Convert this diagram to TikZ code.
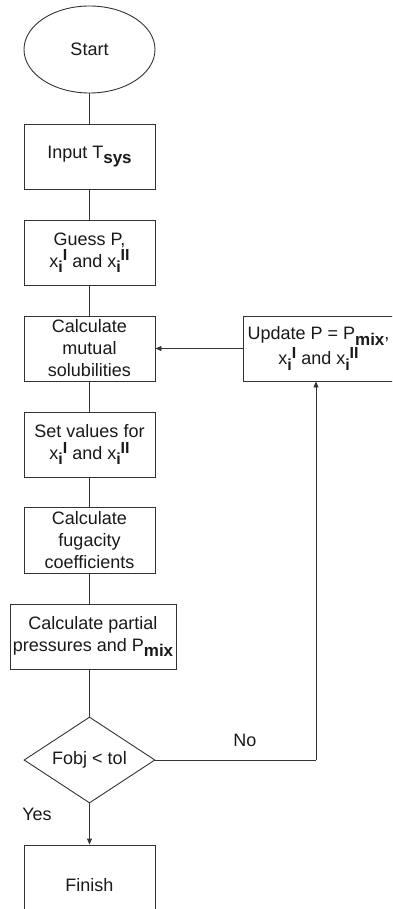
\documentclass[tikz,border=0pt]{standalone}
\usepackage{fontspec}
\setmainfont{Liberation Sans}
\usetikzlibrary{shapes.geometric,arrows.meta}
\newcommand\subb[1]{\raisebox{-0.3em}{\fontsize{17}{17}\selectfont\bfseries #1}}
\newcommand\xii[1]{x\raisebox{-0.3em}{\fontsize{16}{16}\selectfont\bfseries i}\raisebox{0.34em}{\fontsize{16}{16}\selectfont\bfseries #1}}
\begin{document}
\begin{tikzpicture}[x=1pt,y=-1pt,
  every node/.style={font=\fontsize{18}{22}\selectfont, text=black!90},
  box/.style={draw=black!80, line width=0.9pt, rectangle, minimum width=131pt, minimum height=65pt, inner sep=0pt, align=center},
  term/.style={draw=black!80, line width=0.9pt, ellipse, minimum width=131pt, minimum height=87pt, inner sep=0pt},
  decision/.style={draw=black!80, line width=0.9pt, diamond, minimum width=131pt, minimum height=86pt, aspect=1.52, inner sep=0pt},
  conn/.style={draw=black!80, line width=0.9pt},
  arr/.style={conn, -{Triangle[length=6pt,width=5pt]}},
  lbl/.style={inner sep=0pt}
]
\useasboundingbox (0,0) rectangle (392,909);
\clip (0,0) rectangle (392,909);
\node[term] (start) at (89.5,49.5) {Start};
\node[box] (input) at (89.5,156.5) {Input T\subb{sys}};
\node[box] (guess) at (89.5,252.5) {Guess P,\\\xii{I} and \xii{II}};
\node[box] (mutual) at (89.5,348.5) {Calculate\\mutual\\solubilities};
\node[box] (setv) at (89.5,444.5) {Set values for\\\xii{I} and \xii{II}};
\node[box, minimum height=66pt] (fug) at (89.5,540) {Calculate\\fugacity\\coefficients};
\node[box, minimum width=166pt] (partial) at (93,636.5) {Calculate partial\\pressures and P\subb{mix}};
\node[decision] (dec) at (89.5,760) {Fobj < tol};
\node[box, minimum height=80pt] (finish) at (89.5,885) {Finish};
\node[box, minimum width=151pt, font=\fontsize{18}{25}\selectfont] (update) at (318.5,348.5) {Update P = P\subb{mix},\\\xii{I} and \xii{II}};
\coordinate (corner) at (316,760);
\draw[conn] (start) -- (input);
\draw[conn] (input) -- (guess);
\draw[conn] (guess) -- (mutual);
\draw[conn] (mutual) -- (setv);
\draw[conn] (setv) -- (fug);
\draw[conn] (fug.south) -- (fug.south |- partial.north);
\draw[conn] (partial.south -| dec.north) -- (dec.north);
\draw[arr] (dec.south) -- (finish.north);
\draw[conn] (dec.east) -- (corner);
\draw[arr] (corner) -- (corner |- update.south);
\draw[arr] (update.west) -- (mutual.east);
\node[lbl] (yes) at (37,814) {Yes};
\node[lbl] (no) at (245,740) {No};
\end{tikzpicture}
\end{document}
